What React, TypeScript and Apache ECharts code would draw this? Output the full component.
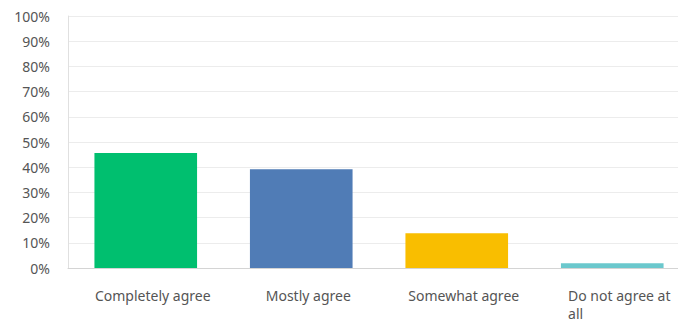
import React, { useEffect, useRef } from "react";
import * as echarts from "echarts";

const categories = ["Completely agree", "Mostly agree", "Somewhat agree", "Do not agree at all"];
const values = [45.6, 39.2, 13.8, 1.9];
const colors = ["#00bf6f", "#507cb6", "#f9be00", "#6bc8cd"];
const yTicks = [0, 10, 20, 30, 40, 50, 60, 70, 80, 90, 100];

export default function App() {
  const ref = useRef<HTMLDivElement>(null);
  useEffect(() => {
    document.body.style.margin = "0";
    document.body.style.overflow = "hidden";
    document.documentElement.style.overflow = "hidden";
    const chart = echarts.init(ref.current!, null, { renderer: "svg" });
    chart.setOption({
      animation: false,
      grid: {
        left: 68,
        top: 16,
        right: -12,
        height: 252,
        containLabel: false,
        outerBoundsMode: "none",
      },
      xAxis: {
        type: "category",
        data: categories,
        axisTick: { show: false },
        axisLine: { lineStyle: { color: "#d4d4d4", width: 1 } },
        axisLabel: {
          interval: 0,
          margin: 18,
          color: "#555",
          fontFamily: "Noto Sans",
          fontSize: 14,
          lineHeight: 18,
          padding: [0, 0, 0, 14],
          formatter: (v: string) =>
            v === "Do not agree at all" ? "{l|Do not agree at}\n{l|all}" : v,
          rich: { l: { align: "left", color: "#555", fontFamily: "Noto Sans", fontSize: 14, lineHeight: 18 } },
        },
      },
      yAxis: {
        type: "value",
        min: yTicks[0],
        max: yTicks[yTicks.length - 1],
        interval: 10,
        axisLine: { show: true, lineStyle: { color: "#e0e0e0" } },
        axisTick: { show: false },
        splitLine: { lineStyle: { color: "#ececec" } },
        axisLabel: {
          margin: 18,
          color: "#555",
          fontFamily: "Noto Sans",
          fontSize: 14,
          formatter: (v: number) => `${v}%`,
        },
      },
      series: [
        {
          type: "bar",
          barWidth: "66%",
          data: values.map((v, i) => ({ value: v, itemStyle: { color: colors[i] } })),
        },
      ],
    });
    return () => chart.dispose();
  }, []);
  return <div ref={ref} style={{ width: 678, height: 323, overflow: "hidden" }} />;
}
